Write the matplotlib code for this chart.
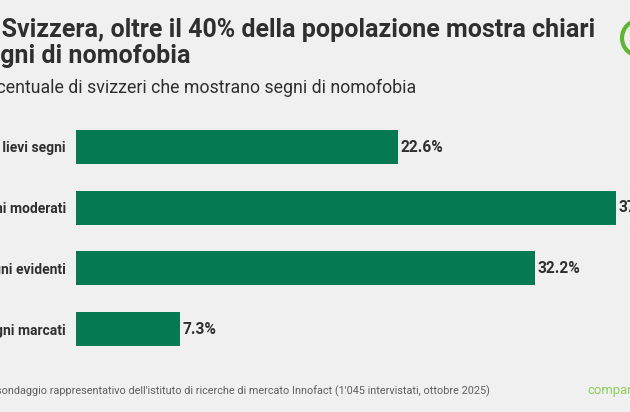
import matplotlib
matplotlib.use("Agg")
import matplotlib.pyplot as plt
from matplotlib.patches import Circle
from matplotlib.transforms import Affine2D

categories = ["Solo lievi segni", "Segni moderati", "Segni evidenti", "Segni marcati"]
values = [22.6, 37.9, 32.2, 7.3]

W, H = 630, 412
plt.rcParams["font.family"] = ["Roboto", "DejaVu Sans"]
BG = "#f0f0f0"
GREEN = "#057a52"
DARK = "#2f2f2f"

fig = plt.figure(figsize=(W / 100, H / 100), dpi=100, facecolor=BG)

def px(x, y):
    return x / W, 1 - y / H

# bars
ax = fig.add_axes([76 / W, 1 - 359.5 / H, (W - 76) / W, 243 / H])
ax.set_facecolor("none")
ax.barh(range(4), values, height=0.56, color=GREEN)
ax.set_xlim(0, (W - 76) / 14.25)
ax.set_ylim(3.5, -0.5)
ax.set_yticks(range(4))
ax.set_yticklabels(categories, fontsize=10, fontweight="bold", color=DARK)
ax.tick_params(axis="y", length=0, pad=7.2)
ax.xaxis.set_visible(False)
for s in ax.spines.values():
    s.set_visible(False)
for i, v in enumerate(values):
    ax.annotate(f"{v}%", (v, i), xytext=(2, -0.2), textcoords="offset points",
                va="center", ha="left", fontsize=11.2, fontweight="bold",
                color=DARK, annotation_clip=False)

# title block
fig.text(*px(595, 37), "In Svizzera, oltre il 40% della popolazione mostra chiari",
         ha="right", va="baseline", fontsize=18, fontweight="bold", color=DARK)
fig.text(*px(190, 63), "segni di nomofobia",
         ha="right", va="baseline", fontsize=18, fontweight="bold", color=DARK)
fig.text(*px(416, 93), "Percentuale di svizzeri che mostrano segni di nomofobia",
         ha="right", va="baseline", fontsize=12.8, color=DARK)

# footer
fig.text(*px(490, 394), "Fonte: sondaggio rappresentativo dell'istituto di ricerche di mercato "
         "Innofact (1'045 intervistati, ottobre 2025)",
         ha="right", va="baseline", fontsize=7.8, color="#5f5f5f")
fig.text(*px(587, 394), "comparis", ha="left", va="baseline", fontsize=9.4,
         color="#8fce5a")

# logo ring, cut by the right edge
ring = Circle((640, 38), 18, fill=False, edgecolor="#5cb82e", linewidth=3,
              transform=Affine2D().scale(1, -1).translate(0, H))
fig.add_artist(ring)

fig.savefig("out.png", dpi=100, facecolor=BG)
